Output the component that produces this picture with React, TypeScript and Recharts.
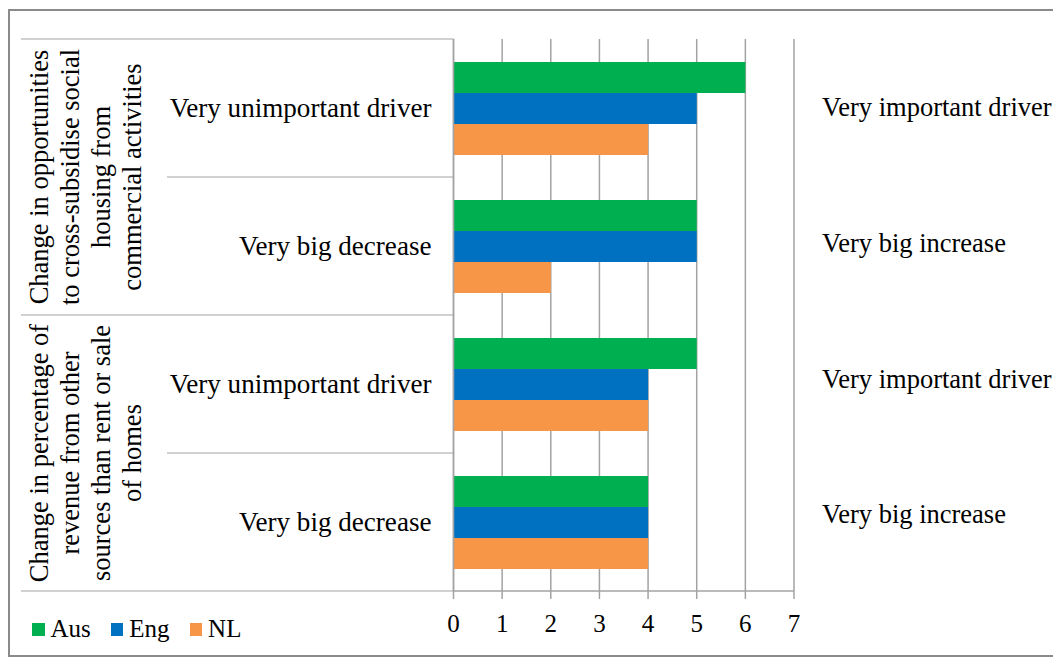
import { Bar, BarChart, CartesianGrid, Legend, XAxis, YAxis } from "recharts";

const categories = ["Very unimportant driver", "Very big decrease", "Very unimportant driver", "Very big decrease"];
const rightLabels = ["Very important driver", "Very big increase", "Very important driver", "Very big increase"];
const groups = [
  ["Change in opportunities", "to cross-subsidise social", "housing from", "commercial activities"],
  ["Change in percentage of", "revenue from other", "sources than rent or sale", "of homes"],
];
const aus = [6, 5, 5, 4];
const eng = [5, 5, 4, 4];
const nl = [4, 2, 4, 4];
const xTicks = [0, 1, 2, 3, 4, 5, 6, 7];

const COLORS = { Aus: "#00b050", Eng: "#0070c0", NL: "#f79646" };
const FONT = "'Liberation Serif', 'DejaVu Serif', serif";
const GRID = "#a3a3a3";

const data = categories.map((c, i) => ({
  key: `c${i}`,
  Aus: aus[i],
  Eng: eng[i],
  NL: nl[i],
}));

const PLOT_LEFT = 443.5;
const PLOT_TOP = 28;
const PLOT_BOTTOM = 580;
const BAND = (PLOT_BOTTOM - PLOT_TOP) / categories.length;

function LeftTick(props: any) {
  const { y, index } = props;
  const isGroupStart = index % 2 === 0;
  const group = groups[index / 2];
  return (
    <g>
      <line x1={isGroupStart ? 11 : 157} x2={PLOT_LEFT} y1={y - BAND / 2} y2={y - BAND / 2} stroke={GRID} />
      {index === categories.length - 1 && (
        <line x1={11} x2={PLOT_LEFT} y1={y + BAND / 2} y2={y + BAND / 2} stroke={GRID} />
      )}
      <text x={PLOT_LEFT - 22} y={y} dy="0.35em" textAnchor="end" fontSize={27.1} fontFamily={FONT} fill="#000">
        {categories[index]}
      </text>
      {isGroupStart && group &&
        group.map((line, k) => (
          <text
            key={k}
            transform={`translate(${37.5 + k * 31.3}, ${y + BAND / 2}) rotate(-90)`}
            textAnchor="middle"
            fontSize={26.5}
            fontFamily={FONT}
            fill="#000"
          >
            {line}
          </text>
        ))}
    </g>
  );
}

function RightTick(props: any) {
  const { x, y, index } = props;
  return (
    <text x={x} y={y} dy="0.35em" textAnchor="start" fontSize={26.5} fontFamily={FONT} fill="#000">
      {rightLabels[index]}
    </text>
  );
}

function LegendContent({ payload }: any) {
  return (
    <div style={{ display: "flex", alignItems: "center", fontFamily: FONT, fontSize: 25, lineHeight: "30px", color: "#000" }}>
      {(payload || []).map((p: any) => (
        <div key={p.value} style={{ display: "flex", alignItems: "center", marginRight: 20 }}>
          <span style={{ display: "inline-block", width: 12.5, height: 13, background: p.color, marginRight: 6 }} />
          <span>{p.value}</span>
        </div>
      ))}
    </div>
  );
}

export default function App() {
  return (
    <div
      style={{
        width: 1049,
        height: 648,
        marginTop: 1,
        border: `2px solid #8a8a8a`,
        boxSizing: "border-box",
        background: "#fff",
      }}
    >
      <BarChart
        width={1045}
        height={644}
        data={data}
        layout="vertical"
        margin={{ top: PLOT_TOP, right: 61, left: 43.5, bottom: 24 }}
        barCategoryGap={23}
        barGap={0}
      >
        <CartesianGrid horizontal={false} stroke={GRID} strokeWidth={1.5} />
        <XAxis
          type="number"
          domain={[0, 7]}
          ticks={xTicks}
          interval={0}
          height={40}
          tickSize={8}
          tickMargin={15}
          stroke={GRID}
          axisLine={{ stroke: GRID, strokeWidth: 1.5 }}
          tickLine={{ stroke: GRID, strokeWidth: 1.5 }}
          tick={{ fill: "#000", fontSize: 25, fontFamily: FONT }}
        />
        <YAxis
          type="category"
          dataKey="key"
          width={400}
          tickSize={0}
          tickMargin={22}
          interval={0}
          axisLine={{ stroke: GRID, strokeWidth: 1.5 }}
          tickLine={false}
          tick={<LeftTick />}
        />
        <YAxis
          yAxisId="r"
          orientation="right"
          type="category"
          dataKey="key"
          width={200}
          tickSize={0}
          tickMargin={28}
          interval={0}
          padding={{ top: 0, bottom: 9 }}
          axisLine={false}
          tickLine={false}
          tick={<RightTick />}
        />
        <Legend
          layout="horizontal"
          align="center"
          verticalAlign="middle"
          content={<LegendContent />}
          wrapperStyle={{ left: 22, top: 603, width: 400 }}
        />
        <Bar dataKey="Aus" name="Aus" fill={COLORS.Aus} isAnimationActive={false} />
        <Bar dataKey="Eng" name="Eng" fill={COLORS.Eng} isAnimationActive={false} />
        <Bar dataKey="NL" name="NL" fill={COLORS.NL} isAnimationActive={false} />
      </BarChart>
    </div>
  );
}
